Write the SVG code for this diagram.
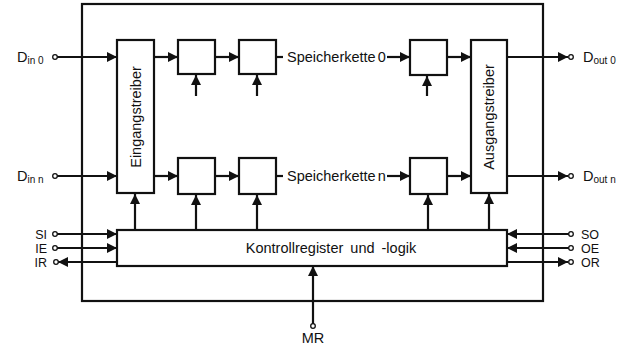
<svg xmlns="http://www.w3.org/2000/svg" width="621" height="347" viewBox="0 0 621 347">
<defs>
<style>
.b{fill:#fff;stroke:#111;stroke-width:2.2}
.l{fill:none;stroke:#111;stroke-width:2.2}
.c{fill:#fff;stroke:#111;stroke-width:1.3}
text{font-family:"Liberation Sans",Arial,sans-serif;font-size:14.5px;fill:#111}
.s{font-size:10px}
.p{font-size:12.5px}
</style>
<marker id="a" viewBox="0 0 10 10" refX="10" refY="5" markerWidth="10" markerHeight="10" markerUnits="userSpaceOnUse" orient="auto">
<path d="M0,0L10,5L0,10z" fill="#111"/>
</marker>
</defs>
<rect width="621" height="347" fill="#fff"/>
<g id="frame"><rect class="l" x="82" y="4" width="461" height="297"/></g>
<g id="connectors">
<path class="l" d="M57,57H117" marker-end="url(#a)"/>
<path class="l" d="M57,176H117" marker-end="url(#a)"/>
<path class="l" d="M154,57H178" marker-end="url(#a)"/>
<path class="l" d="M215,57H239" marker-end="url(#a)"/>
<path class="l" d="M276,57H283"/>
<path class="l" d="M387,57H410" marker-end="url(#a)"/>
<path class="l" d="M447,57H471" marker-end="url(#a)"/>
<path class="l" d="M507,57H568" marker-end="url(#a)"/>
<path class="l" d="M154,176H178" marker-end="url(#a)"/>
<path class="l" d="M215,176H239" marker-end="url(#a)"/>
<path class="l" d="M276,176H283"/>
<path class="l" d="M387,176H410" marker-end="url(#a)"/>
<path class="l" d="M447,176H471" marker-end="url(#a)"/>
<path class="l" d="M507,176H568" marker-end="url(#a)"/>
<path class="l" d="M196,96V75" marker-end="url(#a)"/>
<path class="l" d="M257,96V75" marker-end="url(#a)"/>
<path class="l" d="M427,96V76" marker-end="url(#a)"/>
<path class="l" d="M135,230V194" marker-end="url(#a)"/>
<path class="l" d="M196,230V195" marker-end="url(#a)"/>
<path class="l" d="M257,230V195" marker-end="url(#a)"/>
<path class="l" d="M428,230V195" marker-end="url(#a)"/>
<path class="l" d="M489,230V194" marker-end="url(#a)"/>
<path class="l" d="M57,234H117" marker-end="url(#a)"/>
<path class="l" d="M57,248H117" marker-end="url(#a)"/>
<path class="l" d="M117,262H58" marker-end="url(#a)"/>
<path class="l" d="M569,234H507" marker-end="url(#a)"/>
<path class="l" d="M569,248H507" marker-end="url(#a)"/>
<path class="l" d="M507,262H568" marker-end="url(#a)"/>
<path class="l" d="M313,324V266" marker-end="url(#a)"/>
</g>
<g id="terminals">
<circle class="c" cx="55" cy="57" r="2.3"/>
<circle class="c" cx="55" cy="176" r="2.3"/>
<circle class="c" cx="571" cy="57" r="2.3"/>
<circle class="c" cx="571" cy="176" r="2.3"/>
<circle class="c" cx="55" cy="234" r="2.3"/>
<circle class="c" cx="55" cy="248" r="2.3"/>
<circle class="c" cx="56" cy="262" r="2.3"/>
<circle class="c" cx="571" cy="234" r="2.3"/>
<circle class="c" cx="571" cy="248" r="2.3"/>
<circle class="c" cx="571" cy="262" r="2.3"/>
<circle class="c" cx="313" cy="326" r="2.3"/>
</g>
<g id="eingangstreiber"><rect class="b" x="117" y="40" width="37" height="153"/>
<text transform="translate(140.5,117) rotate(-90)" text-anchor="middle">Eingangstreiber</text></g>
<g id="ausgangstreiber"><rect class="b" x="471" y="40" width="36" height="153"/>
<text transform="translate(494,117) rotate(-90)" text-anchor="middle">Ausgangstreiber</text></g>
<g id="r0b1"><rect class="b" x="178" y="40" width="37" height="34"/></g>
<g id="r0b2"><rect class="b" x="239" y="40" width="37" height="34"/></g>
<g id="r0b3"><rect class="b" x="410" y="40" width="37" height="35"/></g>
<g id="rnb1"><rect class="b" x="178" y="158" width="37" height="36"/></g>
<g id="rnb2"><rect class="b" x="239" y="158" width="37" height="36"/></g>
<g id="rnb3"><rect class="b" x="410" y="158" width="37" height="36"/></g>
<g id="kontroll"><rect class="b" x="117" y="230" width="390" height="36"/>
<text x="331" y="253" text-anchor="middle" word-spacing="3">Kontrollregister und -logik</text></g>
<g id="labels">
<text x="287" y="62">Speicherkette<tspan dx="2">0</tspan></text>
<text x="287" y="181">Speicherkette<tspan dx="2">n</tspan></text>
<text x="17" y="62">D<tspan class="s" dy="2">in 0</tspan></text>
<text x="17" y="181">D<tspan class="s" dy="2">in n</tspan></text>
<text x="583" y="62">D<tspan class="s" dy="2">out 0</tspan></text>
<text x="583" y="181">D<tspan class="s" dy="2">out n</tspan></text>
<text class="p" x="47" y="239" text-anchor="end">SI</text>
<text class="p" x="47" y="253" text-anchor="end">IE</text>
<text class="p" x="47" y="267" text-anchor="end">IR</text>
<text class="p" x="581" y="239">SO</text>
<text class="p" x="581" y="253">OE</text>
<text class="p" x="581" y="267">OR</text>
<text x="313" y="343" text-anchor="middle">MR</text>
</g>
</svg>
